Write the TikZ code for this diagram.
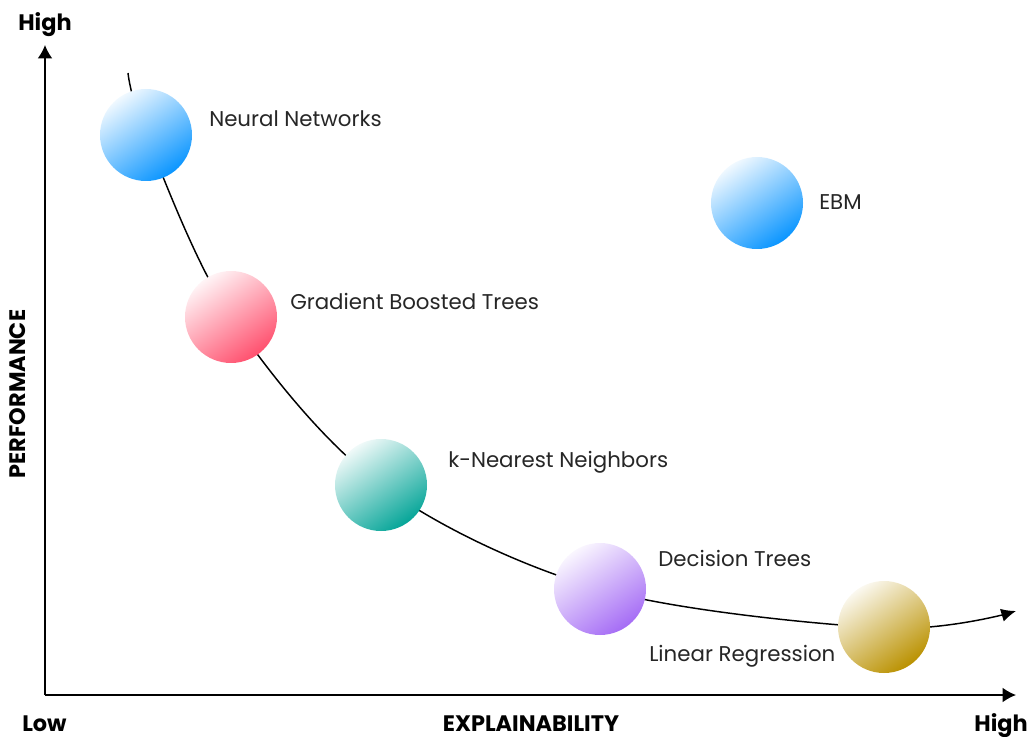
\documentclass[tikz,border=0pt]{standalone}
\usepackage{fontspec}
\setmainfont{Poppins}
\usetikzlibrary{arrows.meta}
\definecolor{cblue}{RGB}{10,149,255}
\definecolor{cred}{RGB}{255,80,110}
\definecolor{cteal}{RGB}{5,165,152}
\definecolor{cpurple}{RGB}{165,108,245}
\definecolor{cgold}{RGB}{186,145,0}
\tikzset{
  ball/.style={circle, inner sep=0pt, minimum size=69pt, shading=axis,
    top color=#1!6!white, middle color=#1!68!white, bottom color=#1, shading angle=35},
  lbl/.style={anchor=west, font=\fontsize{16pt}{19pt}\selectfont, text=black!85, inner sep=0pt},
  axlbl/.style={font=\fontsize{16.8pt}{19pt}\selectfont\bfseries, inner sep=0pt},
  axis/.style={line width=1.1pt, -{Latex[length=10pt,width=11pt]}},
  trend/.style={line width=1.1pt, -{Latex[length=11pt,width=10pt]}}
}
\begin{document}
\begin{tikzpicture}[x=0.75pt,y=-0.75pt]
\useasboundingbox (0,0) rectangle (1030,737);
% axes
\coordinate (o) at (45,695);
\coordinate (ytop) at (45,45);
\coordinate (xend) at (1016,695);
\draw[axis] (o) -- (ytop);
\draw[axis] (o) -- (xend);
% points
\coordinate (cstart) at (128,73);
\coordinate (cend) at (1016,611);
\coordinate (pnn) at (146,135);
\coordinate (pgbt) at (231,317);
\coordinate (pknn) at (381,485);
\coordinate (pdt) at (600,589);
\coordinate (plr) at (884,628);
\draw[trend] plot[smooth, tension=0.55] coordinates {(cstart) (pnn) (pgbt) (pknn) (pdt) (plr) (cend)};
% balls
\node[ball=cblue] (nn) at (146,135) {};
\node[ball=cblue] (ebm) at (757,203) {};
\node[ball=cred] (gbt) at (231,317) {};
\node[ball=cteal] (knn) at (381,485) {};
\node[ball=cpurple] (dt) at (600,589) {};
\node[ball=cgold] (lr) at (884,627) {};
% labels
\node[lbl] (lnn) at (209,119) {Neural Networks};
\node[lbl] (lebm) at (819,202) {EBM};
\node[lbl] (lgbt) at (290,301) {Gradient Boosted Trees};
\node[lbl] (lknn) at (448,462) {k-Nearest Neighbors};
\node[lbl] (ldt) at (658,558) {Decision Trees};
\node[lbl] (llr) at (649,656) {Linear Regression};
% axis labels
\node[axlbl] (yhigh) at (45,25) {High};
\node[axlbl, anchor=base west] (low) at (22,731) {Low};
\node[axlbl, anchor=base] (xlab) at (531,731) {EXPLAINABILITY};
\node[axlbl, anchor=base east] (xhigh) at (1028,731) {High};
\node[axlbl, rotate=90] (ylab) at (18,394) {PERFORMANCE};
\end{tikzpicture}
\end{document}
